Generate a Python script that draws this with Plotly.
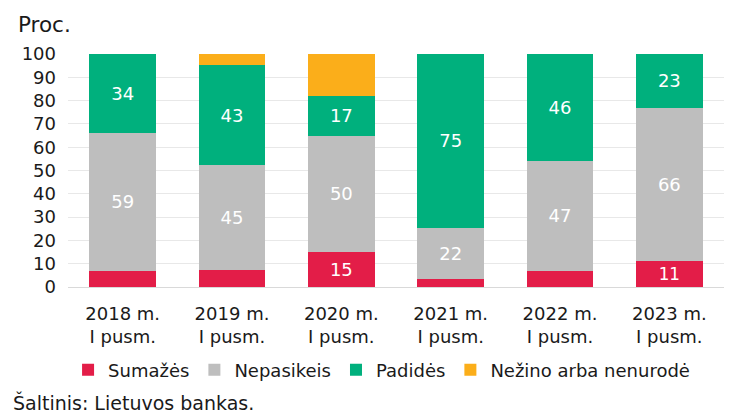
import plotly.graph_objects as go

categories = ["2018 m.<br>I pusm.", "2019 m.<br>I pusm.", "2020 m.<br>I pusm.",
              "2021 m.<br>I pusm.", "2022 m.<br>I pusm.", "2023 m.<br>I pusm."]
sumazes = [7, 7.3, 15, 3.4, 7, 11]
nepasikeis = [59, 45, 50, 22, 47, 66]
padides = [34, 43, 17, 75, 46, 23]
nezino = [0, 4.7, 18, 0, 0, 0]

series = [
    ("Sumažės", sumazes, "#E31D48", True),
    ("Nepasikeis", nepasikeis, "#BEBEBE", True),
    ("Padidės", padides, "#00B07D", True),
    ("Nežino arba nenurodė", nezino, "#FBAE1A", False),
]

FONT = "DejaVu Sans"
FS = 18
fig = go.Figure()
for name, vals, color, labeled in series:
    txt = [f"{v:.0f}" if (labeled and v >= 10) else "" for v in vals]
    fig.add_trace(go.Bar(
        name=name, x=categories, y=vals, marker=dict(color=color, line=dict(width=0)),
        text=txt, textposition="inside", insidetextanchor="middle",
        textfont=dict(color="white", size=FS, family=FONT), hoverinfo="skip",
    ))

fig.update_layout(
    barmode="stack", bargap=0.39,
    width=724, height=408,
    margin=dict(l=60, r=8, t=46, b=129),
    paper_bgcolor="white", plot_bgcolor="white",
    font=dict(family=FONT, size=FS, color="#1a1a1a"),
    xaxis=dict(showgrid=False, showline=True, linecolor="#d9d9d9", linewidth=1,
               ticks="", tickfont=dict(size=FS), ticklabelstandoff=10),
    yaxis=dict(range=[0, 100], dtick=10, showgrid=True, gridcolor="#e8e8e8",
               zeroline=False, ticks="", tickfont=dict(size=FS), ticklabelstandoff=11),
    legend=dict(orientation="h", x=0.478, xanchor="center", y=-0.356, yanchor="middle",
                font=dict(size=FS), traceorder="normal", itemwidth=30,
                bgcolor="rgba(0,0,0,0)"),
    showlegend=True,
)
fig.add_annotation(text="Proc.", xref="paper", yref="paper", x=0, xanchor="left",
                   y=1, yanchor="bottom", showarrow=False, font=dict(size=21.5),
                   xshift=-52, yshift=15)
fig.add_annotation(text="Šaltinis: Lietuvos bankas.", xref="paper", yref="paper",
                   x=0, xanchor="left", y=0, yanchor="bottom", showarrow=False,
                   font=dict(size=19), xshift=-57, yshift=-129)
fig.write_html("out.html")
